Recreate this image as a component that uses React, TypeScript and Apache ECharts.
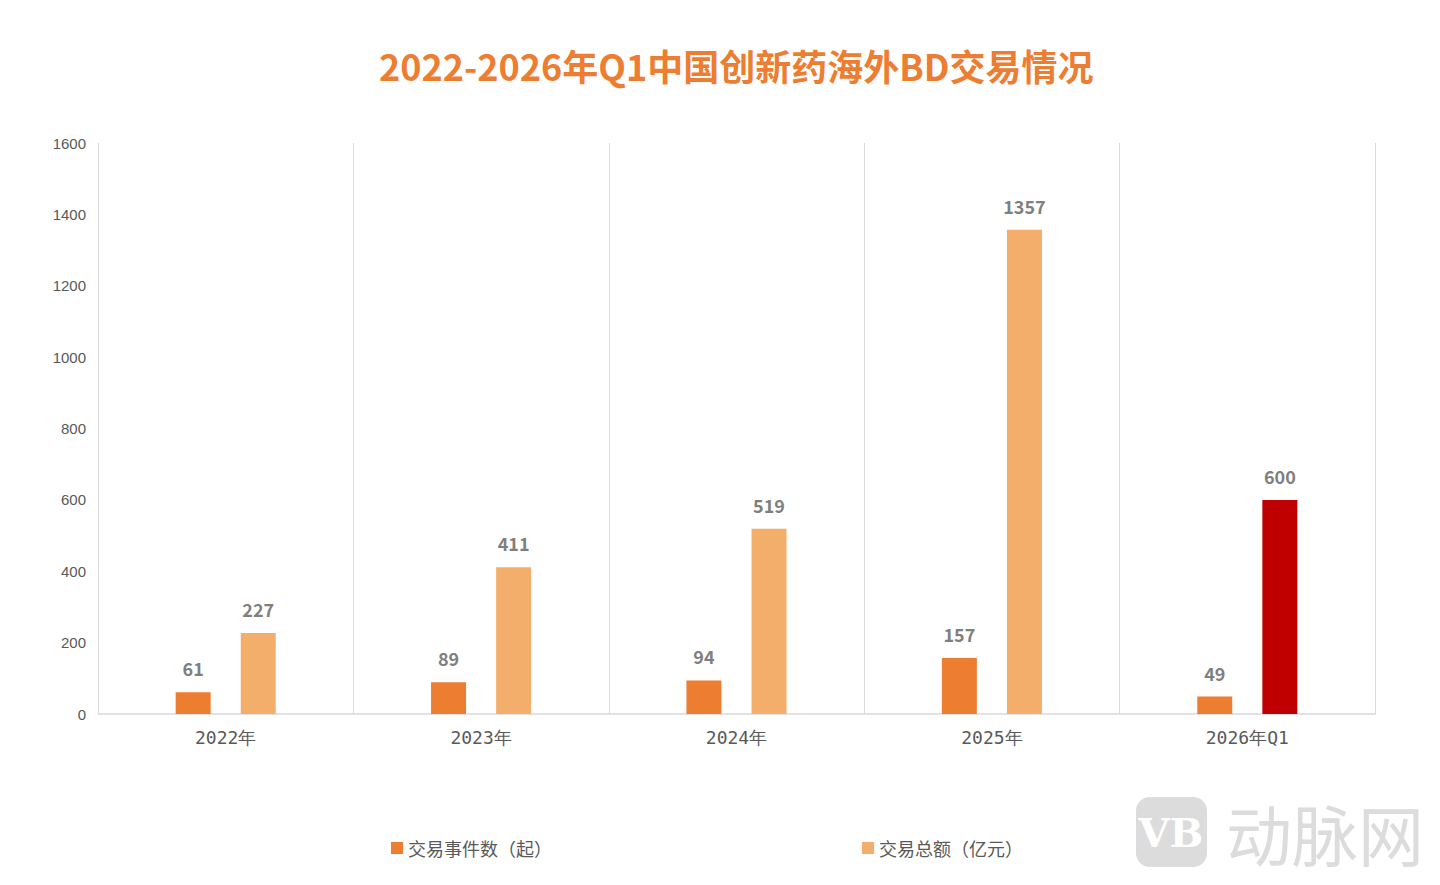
import React, { useEffect, useRef } from "react";
import * as echarts from "echarts";

const categories = ["2022年", "2023年", "2024年", "2025年", "2026年Q1"];
const dealCounts = [61, 89, 94, 157, 49];
const dealAmounts = [227, 411, 519, 1357, 600];
const yTicks = { min: 0, max: 1600, interval: 200 };
const seriesNames = ["交易事件数（起）", "交易总额（亿元）"];

export default function App() {
  const ref = useRef<HTMLDivElement>(null);
  useEffect(() => {
    if (!ref.current) return;
    const chart = echarts.init(ref.current, undefined, { renderer: "svg" });
    const lastIdx = dealAmounts.length - 1;
    const labelStyle = {
      show: true,
      position: "top",
      distance: 15,
      color: "#7f7f7f",
      fontSize: 18,
      fontWeight: "bold",
      fontFamily: "Noto Sans CJK SC",
    };
    chart.setOption({
      animation: false,
      backgroundColor: "#ffffff",
      title: {
        text: "2022-2026年Q1中国创新药海外BD交易情况",
        left: 374,
        top: 42,
        textStyle: {
          color: "#ED7D31",
          fontSize: 36,
          fontWeight: "bold",
          fontFamily: "Noto Sans CJK SC",
        },
      },
      legend: [
        {
          data: [seriesNames[0]],
          left: 386,
          top: 834,
          icon: "rect",
          itemWidth: 12,
          itemHeight: 12,
          itemGap: 5,
          textStyle: { color: "#595959", fontSize: 18, fontFamily: "Noto Sans CJK SC" },
        },
        {
          data: [seriesNames[1]],
          left: 857,
          top: 834,
          icon: "rect",
          itemWidth: 12,
          itemHeight: 12,
          itemGap: 5,
          textStyle: { color: "#595959", fontSize: 18, fontFamily: "Noto Sans CJK SC" },
        },
      ],
      grid: { left: 98, right: 65, top: 143, bottom: 171, containLabel: false },
      xAxis: {
        type: "category",
        data: categories,
        boundaryGap: true,
        axisLine: { show: true, lineStyle: { color: "#d9d9d9", width: 1.5 } },
        axisTick: { show: false },
        splitLine: { show: true, lineStyle: { color: "#d9d9d9", width: 1 } },
        axisLabel: {
          color: "#595959",
          fontSize: 18,
          margin: 14,
          fontFamily: "DejaVu Sans Mono",
        },
      },
      yAxis: {
        type: "value",
        min: yTicks.min,
        max: yTicks.max,
        interval: yTicks.interval,
        axisLine: { show: false },
        axisTick: { show: false },
        splitLine: { show: false },
        axisLabel: {
          color: "#595959",
          fontSize: 15,
          margin: 12,
          fontFamily: "Liberation Sans",
          formatter: (v: number) => String(v),
        },
      },
      series: [
        {
          name: seriesNames[0],
          type: "bar",
          data: dealCounts,
          barWidth: 35,
          barGap: "86%",
          itemStyle: { color: "#ED7D31" },
          label: labelStyle,
        },
        {
          name: seriesNames[1],
          type: "bar",
          data: dealAmounts.map((v, i) =>
            i === lastIdx ? { value: v, itemStyle: { color: "#C00000" } } : v
          ),
          barWidth: 35,
          itemStyle: { color: "#F4AE6B" },
          label: labelStyle,
        },
      ],
      graphic: [
        {
          type: "rect",
          shape: { x: 1136, y: 797, width: 71, height: 70, r: 14 },
          style: { fill: "#dcdcdc" },
          silent: true,
        },
        {
          type: "text",
          x: 1171,
          y: 832,
          style: {
            text: "VB",
            fill: "#ffffff",
            fontSize: 40,
            fontWeight: "bold",
            fontFamily: "DejaVu Serif",
            align: "center",
            verticalAlign: "middle",
          },
          silent: true,
        },
        {
          type: "text",
          x: 1325,
          y: 832,
          style: {
            text: "动脉网",
            fill: "#dcdcdc",
            fontSize: 66,
            fontFamily: "Noto Sans CJK SC",
            align: "center",
            verticalAlign: "middle",
          },
          silent: true,
        },
      ],
    });
    return () => chart.dispose();
  }, []);
  return (
    <div
      ref={ref}
      style={{ position: "absolute", left: 0, top: 0, width: 1440, height: 885 }}
    />
  );
}
